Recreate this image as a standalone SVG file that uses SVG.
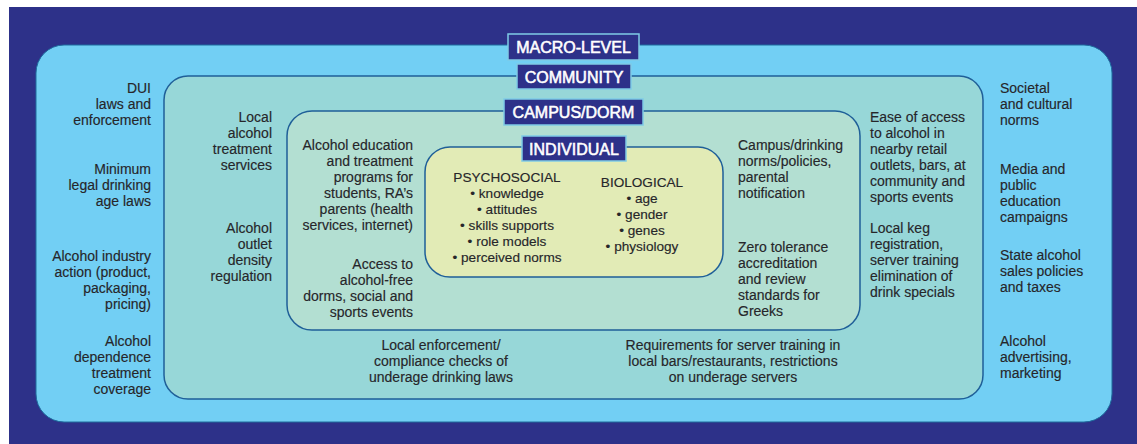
<svg xmlns="http://www.w3.org/2000/svg" width="1137" height="444" viewBox="0 0 1137 444">
  <style>
    .t { font-family: "Liberation Sans", Arial, Helvetica, sans-serif; font-size: 14px; fill: #26262a; stroke: #26262a; stroke-width: 0.15; }
    .ti { font-family: "Liberation Sans", Arial, Helvetica, sans-serif; font-size: 13.6px; fill: #26262a; stroke: #26262a; stroke-width: 0.15; }
    .r { text-anchor: end; }
    .c { text-anchor: middle; }
    .lbl { fill: #2d3189; stroke: #7fcbe6; stroke-width: 1.5; }
    .lt { font-family: "Liberation Sans", Arial, Helvetica, sans-serif; font-size: 16px; fill: #ffffff; stroke: #ffffff; stroke-width: 0.55; text-anchor: middle; }
    .ring { stroke: #1f5f98; stroke-width: 1.5; }
  </style>

  <!-- page backdrop -->
  <rect x="0" y="0" width="1137" height="444" fill="#ffffff"/>
  <rect x="9" y="7" width="1128" height="437" fill="#2d3189"/>

  <!-- macro-level ring -->
  <g id="macro">
    <rect x="36" y="45" width="1076" height="377" rx="28" fill="#72cff4" stroke="#1e6c9e" stroke-width="1"/>
    <text class="t r" x="151" y="93">DUI</text>
    <text class="t r" x="151" y="109">laws and</text>
    <text class="t r" x="151" y="125">enforcement</text>
    <text class="t r" x="151" y="174">Minimum</text>
    <text class="t r" x="151" y="190">legal drinking</text>
    <text class="t r" x="151" y="206">age laws</text>
    <text class="t r" x="151" y="261">Alcohol industry</text>
    <text class="t r" x="151" y="277">action (product,</text>
    <text class="t r" x="151" y="293">packaging,</text>
    <text class="t r" x="151" y="309">pricing)</text>
    <text class="t r" x="151" y="346">Alcohol</text>
    <text class="t r" x="151" y="362">dependence</text>
    <text class="t r" x="151" y="378">treatment</text>
    <text class="t r" x="151" y="394">coverage</text>
    <text class="t" x="1000" y="93">Societal</text>
    <text class="t" x="1000" y="109">and cultural</text>
    <text class="t" x="1000" y="125">norms</text>
    <text class="t" x="1000" y="174">Media and</text>
    <text class="t" x="1000" y="190">public</text>
    <text class="t" x="1000" y="206">education</text>
    <text class="t" x="1000" y="222">campaigns</text>
    <text class="t" x="1000" y="260">State alcohol</text>
    <text class="t" x="1000" y="276">sales policies</text>
    <text class="t" x="1000" y="292">and taxes</text>
    <text class="t" x="1000" y="346">Alcohol</text>
    <text class="t" x="1000" y="362">advertising,</text>
    <text class="t" x="1000" y="378">marketing</text>
  </g>

  <!-- community ring -->
  <g id="community">
    <rect x="164" y="76" width="819" height="323" rx="24" fill="#97d7d8" class="ring"/>
    <text class="t r" x="272" y="122">Local</text>
    <text class="t r" x="272" y="138">alcohol</text>
    <text class="t r" x="272" y="154">treatment</text>
    <text class="t r" x="272" y="170">services</text>
    <text class="t r" x="272" y="233">Alcohol</text>
    <text class="t r" x="272" y="249">outlet</text>
    <text class="t r" x="272" y="265">density</text>
    <text class="t r" x="272" y="281">regulation</text>
    <text class="t" x="870" y="122">Ease of access</text>
    <text class="t" x="870" y="138">to alcohol in</text>
    <text class="t" x="870" y="154">nearby retail</text>
    <text class="t" x="870" y="170">outlets, bars, at</text>
    <text class="t" x="870" y="186">community and</text>
    <text class="t" x="870" y="202">sports events</text>
    <text class="t" x="870" y="233">Local keg</text>
    <text class="t" x="870" y="249">registration,</text>
    <text class="t" x="870" y="265">server training</text>
    <text class="t" x="870" y="281">elimination of</text>
    <text class="t" x="870" y="297">drink specials</text>
    <text class="t c" x="441" y="350">Local enforcement/</text>
    <text class="t c" x="441" y="366">compliance checks of</text>
    <text class="t c" x="441" y="382">underage drinking laws</text>
    <text class="t c" x="733" y="350">Requirements for server training in</text>
    <text class="t c" x="733" y="366">local bars/restaurants, restrictions</text>
    <text class="t c" x="733" y="382">on underage servers</text>
  </g>

  <!-- campus / dorm ring -->
  <g id="campus">
    <rect x="287" y="111" width="573" height="219" rx="25" fill="#b3dfd2" class="ring"/>
    <text class="t r" x="413" y="150">Alcohol education</text>
    <text class="t r" x="413" y="166">and treatment</text>
    <text class="t r" x="413" y="182">programs for</text>
    <text class="t r" x="413" y="198">students, RA’s</text>
    <text class="t r" x="413" y="214">parents (health</text>
    <text class="t r" x="413" y="230">services, internet)</text>
    <text class="t r" x="413" y="269">Access to</text>
    <text class="t r" x="413" y="285">alcohol-free</text>
    <text class="t r" x="413" y="301">dorms, social and</text>
    <text class="t r" x="413" y="317">sports events</text>
    <text class="t" x="738" y="150">Campus/drinking</text>
    <text class="t" x="738" y="166">norms/policies,</text>
    <text class="t" x="738" y="182">parental</text>
    <text class="t" x="738" y="198">notification</text>
    <text class="t" x="738" y="252">Zero tolerance</text>
    <text class="t" x="738" y="268">accreditation</text>
    <text class="t" x="738" y="284">and review</text>
    <text class="t" x="738" y="300">standards for</text>
    <text class="t" x="738" y="316">Greeks</text>
  </g>

  <!-- individual core -->
  <g id="individual">
    <rect x="425" y="147" width="298" height="130" rx="25" fill="#e2ebb6" class="ring"/>
    <text class="ti c" x="507" y="182">PSYCHOSOCIAL</text>
    <text class="ti c" x="507" y="198">• knowledge</text>
    <text class="ti c" x="507" y="214">• attitudes</text>
    <text class="ti c" x="507" y="230">• skills supports</text>
    <text class="ti c" x="507" y="246">• role models</text>
    <text class="ti c" x="507" y="262">• perceived norms</text>
    <text class="ti c" x="642" y="187">BIOLOGICAL</text>
    <text class="ti c" x="642" y="203">• age</text>
    <text class="ti c" x="642" y="219">• gender</text>
    <text class="ti c" x="642" y="235">• genes</text>
    <text class="ti c" x="642" y="251">• physiology</text>
  </g>

  <!-- level title tabs -->
  <g id="labels">
    <rect class="lbl" x="508" y="34" width="131" height="26"/>
    <text class="lt" x="573.5" y="53">MACRO-LEVEL</text>
    <rect class="lbl" x="517" y="64" width="114" height="25"/>
    <text class="lt" x="574" y="82.5">COMMUNITY</text>
    <rect class="lbl" x="504" y="99" width="139" height="26"/>
    <text class="lt" x="573.5" y="118">CAMPUS/DORM</text>
    <rect class="lbl" x="522" y="136" width="104" height="25"/>
    <text class="lt" x="574" y="154.5">INDIVIDUAL</text>
  </g>
</svg>
